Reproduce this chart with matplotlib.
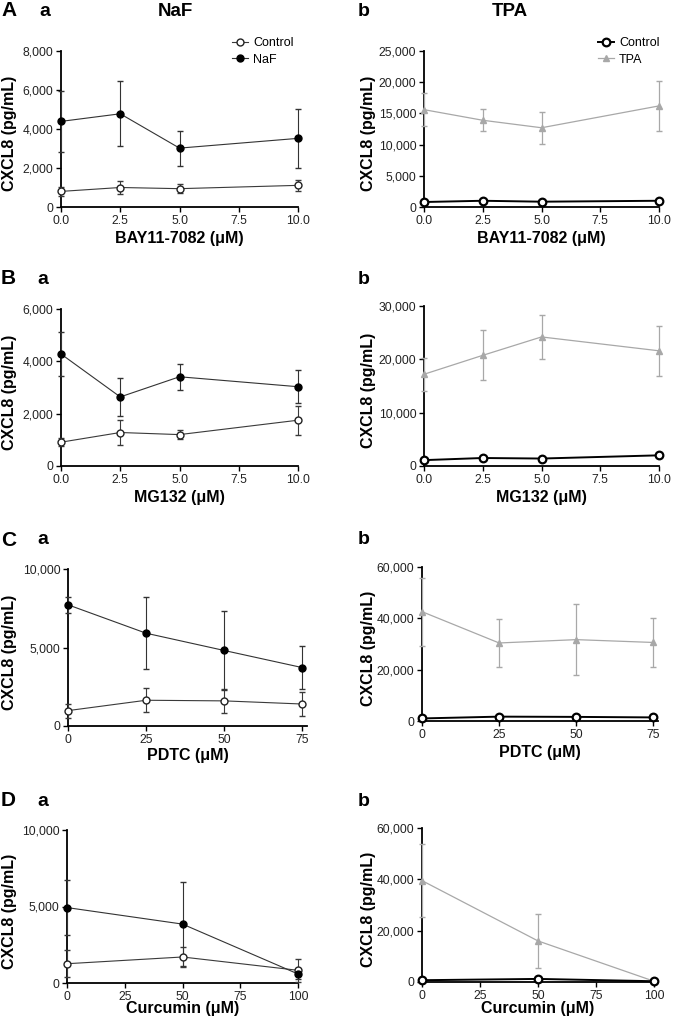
import matplotlib
matplotlib.use("Agg")
import matplotlib.pyplot as plt
from matplotlib.lines import Line2D
from matplotlib.ticker import FuncFormatter

plt.rcParams['font.family'] = ['Liberation Sans', 'DejaVu Sans']

W, H = 673, 1023

# ---- data ----
# row A: BAY11-7082
bay_x = [0, 2.5, 5, 10]
bay_ctrl_naf = [800, 1000, 940, 1110]
bay_ctrl_naf_err = [250, 320, 230, 300]
bay_naf = [4390, 4780, 3020, 3520]
bay_naf_err = [1550, 1670, 900, 1500]
bay_ctrl_tpa = [800, 1000, 850, 1000]
bay_ctrl_tpa_err = [150, 150, 150, 150]
bay_tpa = [15600, 13900, 12700, 16200]
bay_tpa_err = [2600, 1750, 2600, 4000]

# row B: MG132
mg_x = [0, 2.5, 5, 10]
mg_ctrl_naf = [910, 1280, 1200, 1750]
mg_ctrl_naf_err = [150, 470, 160, 560]
mg_naf = [4280, 2640, 3410, 3030]
mg_naf_err = [850, 720, 490, 630]
mg_ctrl_tpa = [1100, 1500, 1400, 2000]
mg_ctrl_tpa_err = [200, 200, 200, 200]
mg_tpa = [17200, 20750, 24200, 21600]
mg_tpa_err = [3100, 4700, 4200, 4700]

# row C: PDTC
pdtc_x = [0, 25, 50, 75]
pdtc_ctrl_naf = [980, 1640, 1600, 1400]
pdtc_ctrl_naf_err = [450, 770, 780, 770]
pdtc_naf = [7720, 5910, 4810, 3720]
pdtc_naf_err = [500, 2300, 2500, 1360]
pdtc_ctrl_tpa = [1000, 1700, 1600, 1400]
pdtc_ctrl_tpa_err = [300, 300, 300, 300]
pdtc_tpa = [42600, 30400, 31700, 30600]
pdtc_tpa_err = [13200, 9200, 13700, 9700]

# row D: Curcumin
cur_x = [0, 50, 100]
cur_ctrl_naf = [1260, 1700, 830]
cur_ctrl_naf_err = [900, 630, 740]
cur_naf = [4930, 3850, 590]
cur_naf_err = [1800, 2770, 300]
cur_ctrl_tpa = [700, 1200, 300]
cur_ctrl_tpa_err = [200, 200, 100]
cur_tpa = [39500, 16000, 300]
cur_tpa_err = [14300, 10500, 200]

fig = plt.figure(figsize=(W / 100, H / 100), dpi=100)


def make_ax(left, right, top, bottom):
    return fig.add_axes([left / W, 1 - bottom / H, (right - left) / W, (bottom - top) / H])


def comma(v, pos):
    return f"{int(v):,}"


def style(ax, xlim, xticks, xfmt, ylim, yticks, xlabel, left, right, top, bottom, ylab_x, xlab_y):
    ax.set_xlim(*xlim)
    ax.set_ylim(*ylim)
    ax.set_xticks(xticks)
    ax.set_xticklabels([xfmt.format(t) for t in xticks])
    ax.set_yticks(yticks)
    ax.yaxis.set_major_formatter(FuncFormatter(comma))
    for s in ['top', 'right']:
        ax.spines[s].set_visible(False)
    for s in ['left', 'bottom']:
        ax.spines[s].set_linewidth(1.3)
    ax.tick_params(direction='out', length=3.5, width=1.0, labelsize=8.7,
                   labelcolor='#222222', pad=2)
    ax.set_ylabel('CXCL8 (pg/mL)', fontsize=11.5, fontweight='bold')
    ax.set_xlabel(xlabel, fontsize=11.5, fontweight='bold')
    # ylabel anchor is its right edge, xlabel anchor is its top edge
    ax.yaxis.set_label_coords((ylab_x - left) / (right - left), 0.47)
    ax.xaxis.set_label_coords(0.5, -(xlab_y - bottom) / (bottom - top))


def naf_panel(ax, x, c, ce, n, ne, legend=False):
    ax.errorbar(x, c, yerr=ce, color='#3a3a3a', lw=0.8, elinewidth=0.8, capsize=2.5,
                marker='o', ms=5, mfc='white', mec='#222222', mew=1.0, clip_on=False,
                zorder=3)
    ax.errorbar(x, n, yerr=ne, color='#333333', lw=0.8, elinewidth=0.8, capsize=2.5,
                marker='o', ms=5, mfc='black', mec='black', clip_on=False, zorder=3)
    if legend:
        h = [Line2D([], [], color='#3a3a3a', lw=0.8, marker='o', ms=5, mfc='white',
                    mec='#222222', mew=1.0),
             Line2D([], [], color='#333333', lw=0.8, marker='o', ms=5, mfc='black',
                    mec='black')]
        ax.legend(h, ['Control', 'NaF'], loc='upper right', bbox_to_anchor=(1.03, 1.16),
                  frameon=False, fontsize=9, handlelength=1.3, handletextpad=0.4,
                  labelspacing=0.35)


def tpa_panel(ax, x, c, ce, t, te, legend=False):
    ax.errorbar(x, t, yerr=te, color='#a8a8a8', lw=0.9, elinewidth=0.9, capsize=2.5,
                marker='^', ms=5, mfc='#a8a8a8', mec='#a8a8a8', clip_on=False, zorder=3)
    ax.errorbar(x, c, yerr=ce, color='black', lw=1.4, elinewidth=1.0, capsize=2,
                marker='o', ms=5.5, mfc='white', mec='black', mew=1.6, clip_on=False,
                zorder=4)
    if legend:
        h = [Line2D([], [], color='black', lw=1.4, marker='o', ms=5.5, mfc='white',
                    mec='black', mew=1.6),
             Line2D([], [], color='#a8a8a8', lw=0.9, marker='^', ms=5, mfc='#a8a8a8',
                    mec='#a8a8a8')]
        ax.legend(h, ['Control', 'TPA'], loc='upper right', bbox_to_anchor=(1.05, 1.16),
                  frameon=False, fontsize=9, handlelength=1.3, handletextpad=0.4,
                  labelspacing=0.35)


dec = "{:.1f}"
integ = "{:d}"

# Row A
ax = make_ax(61, 298, 51, 207)
naf_panel(ax, bay_x, bay_ctrl_naf, bay_ctrl_naf_err, bay_naf, bay_naf_err, legend=True)
style(ax, (0, 10), [0, 2.5, 5, 7.5, 10], dec, (0, 8000), range(0, 8001, 2000),
      'BAY11-7082 (\u03bcM)', 61, 298, 51, 207, 17, 231)
ax = make_ax(424, 659, 51, 207)
tpa_panel(ax, bay_x, bay_ctrl_tpa, bay_ctrl_tpa_err, bay_tpa, bay_tpa_err, legend=True)
style(ax, (0, 10), [0, 2.5, 5, 7.5, 10], dec, (0, 25000), range(0, 25001, 5000),
      'BAY11-7082 (\u03bcM)', 424, 659, 51, 207, 376, 231)

# Row B
ax = make_ax(61, 298, 309, 466)
naf_panel(ax, mg_x, mg_ctrl_naf, mg_ctrl_naf_err, mg_naf, mg_naf_err)
style(ax, (0, 10), [0, 2.5, 5, 7.5, 10], dec, (0, 6000), range(0, 6001, 2000),
      'MG132 (\u03bcM)', 61, 298, 309, 466, 17, 490)
ax = make_ax(424, 659, 306, 466)
tpa_panel(ax, mg_x, mg_ctrl_tpa, mg_ctrl_tpa_err, mg_tpa, mg_tpa_err)
style(ax, (0, 10), [0, 2.5, 5, 7.5, 10], dec, (0, 30000), range(0, 30001, 10000),
      'MG132 (\u03bcM)', 424, 659, 306, 466, 376, 490)

# Row C
ax = make_ax(68, 307, 569, 726)
naf_panel(ax, pdtc_x, pdtc_ctrl_naf, pdtc_ctrl_naf_err, pdtc_naf, pdtc_naf_err)
style(ax, (0, 76.5), [0, 25, 50, 75], integ, (0, 10000), range(0, 10001, 5000),
      'PDTC (\u03bcM)', 68, 307, 569, 726, 17, 748)
ax = make_ax(422, 658, 567, 721)
tpa_panel(ax, pdtc_x, pdtc_ctrl_tpa, pdtc_ctrl_tpa_err, pdtc_tpa, pdtc_tpa_err)
style(ax, (0, 76.5), [0, 25, 50, 75], integ, (0, 60000), range(0, 60001, 20000),
      'PDTC (\u03bcM)', 422, 658, 567, 721, 376, 745)

# Row D
ax = make_ax(67, 298, 830, 983)
naf_panel(ax, cur_x, cur_ctrl_naf, cur_ctrl_naf_err, cur_naf, cur_naf_err)
style(ax, (0, 100), [0, 25, 50, 75, 100], integ, (0, 10000), range(0, 10001, 5000),
      'Curcumin (\u03bcM)', 67, 298, 830, 983, 17, 1001)
ax = make_ax(422, 654, 828, 982)
tpa_panel(ax, cur_x, cur_ctrl_tpa, cur_ctrl_tpa_err, cur_tpa, cur_tpa_err)
style(ax, (0, 100), [0, 25, 50, 75, 100], integ, (0, 60000), range(0, 60001, 20000),
      'Curcumin (\u03bcM)', 422, 654, 828, 982, 376, 1001)


# panel letters and column titles
def label(x, y, s, size=14, ha='left'):
    fig.text(x / W, 1 - y / H, s, fontsize=size, fontweight='bold', ha=ha, va='center')


label(1, 11, 'A', 15)
label(39, 11, 'a')
label(175, 11, 'NaF', 13.5, ha='center')
label(358, 11, 'b')
label(510, 11, 'TPA', 13.5, ha='center')
for letter, y in [('B', 279), ('C', 540), ('D', 801)]:
    label(1, y, letter, 15)
    label(37, y, 'a')
    label(358, y, 'b')

fig.savefig('out.png', dpi=100)
